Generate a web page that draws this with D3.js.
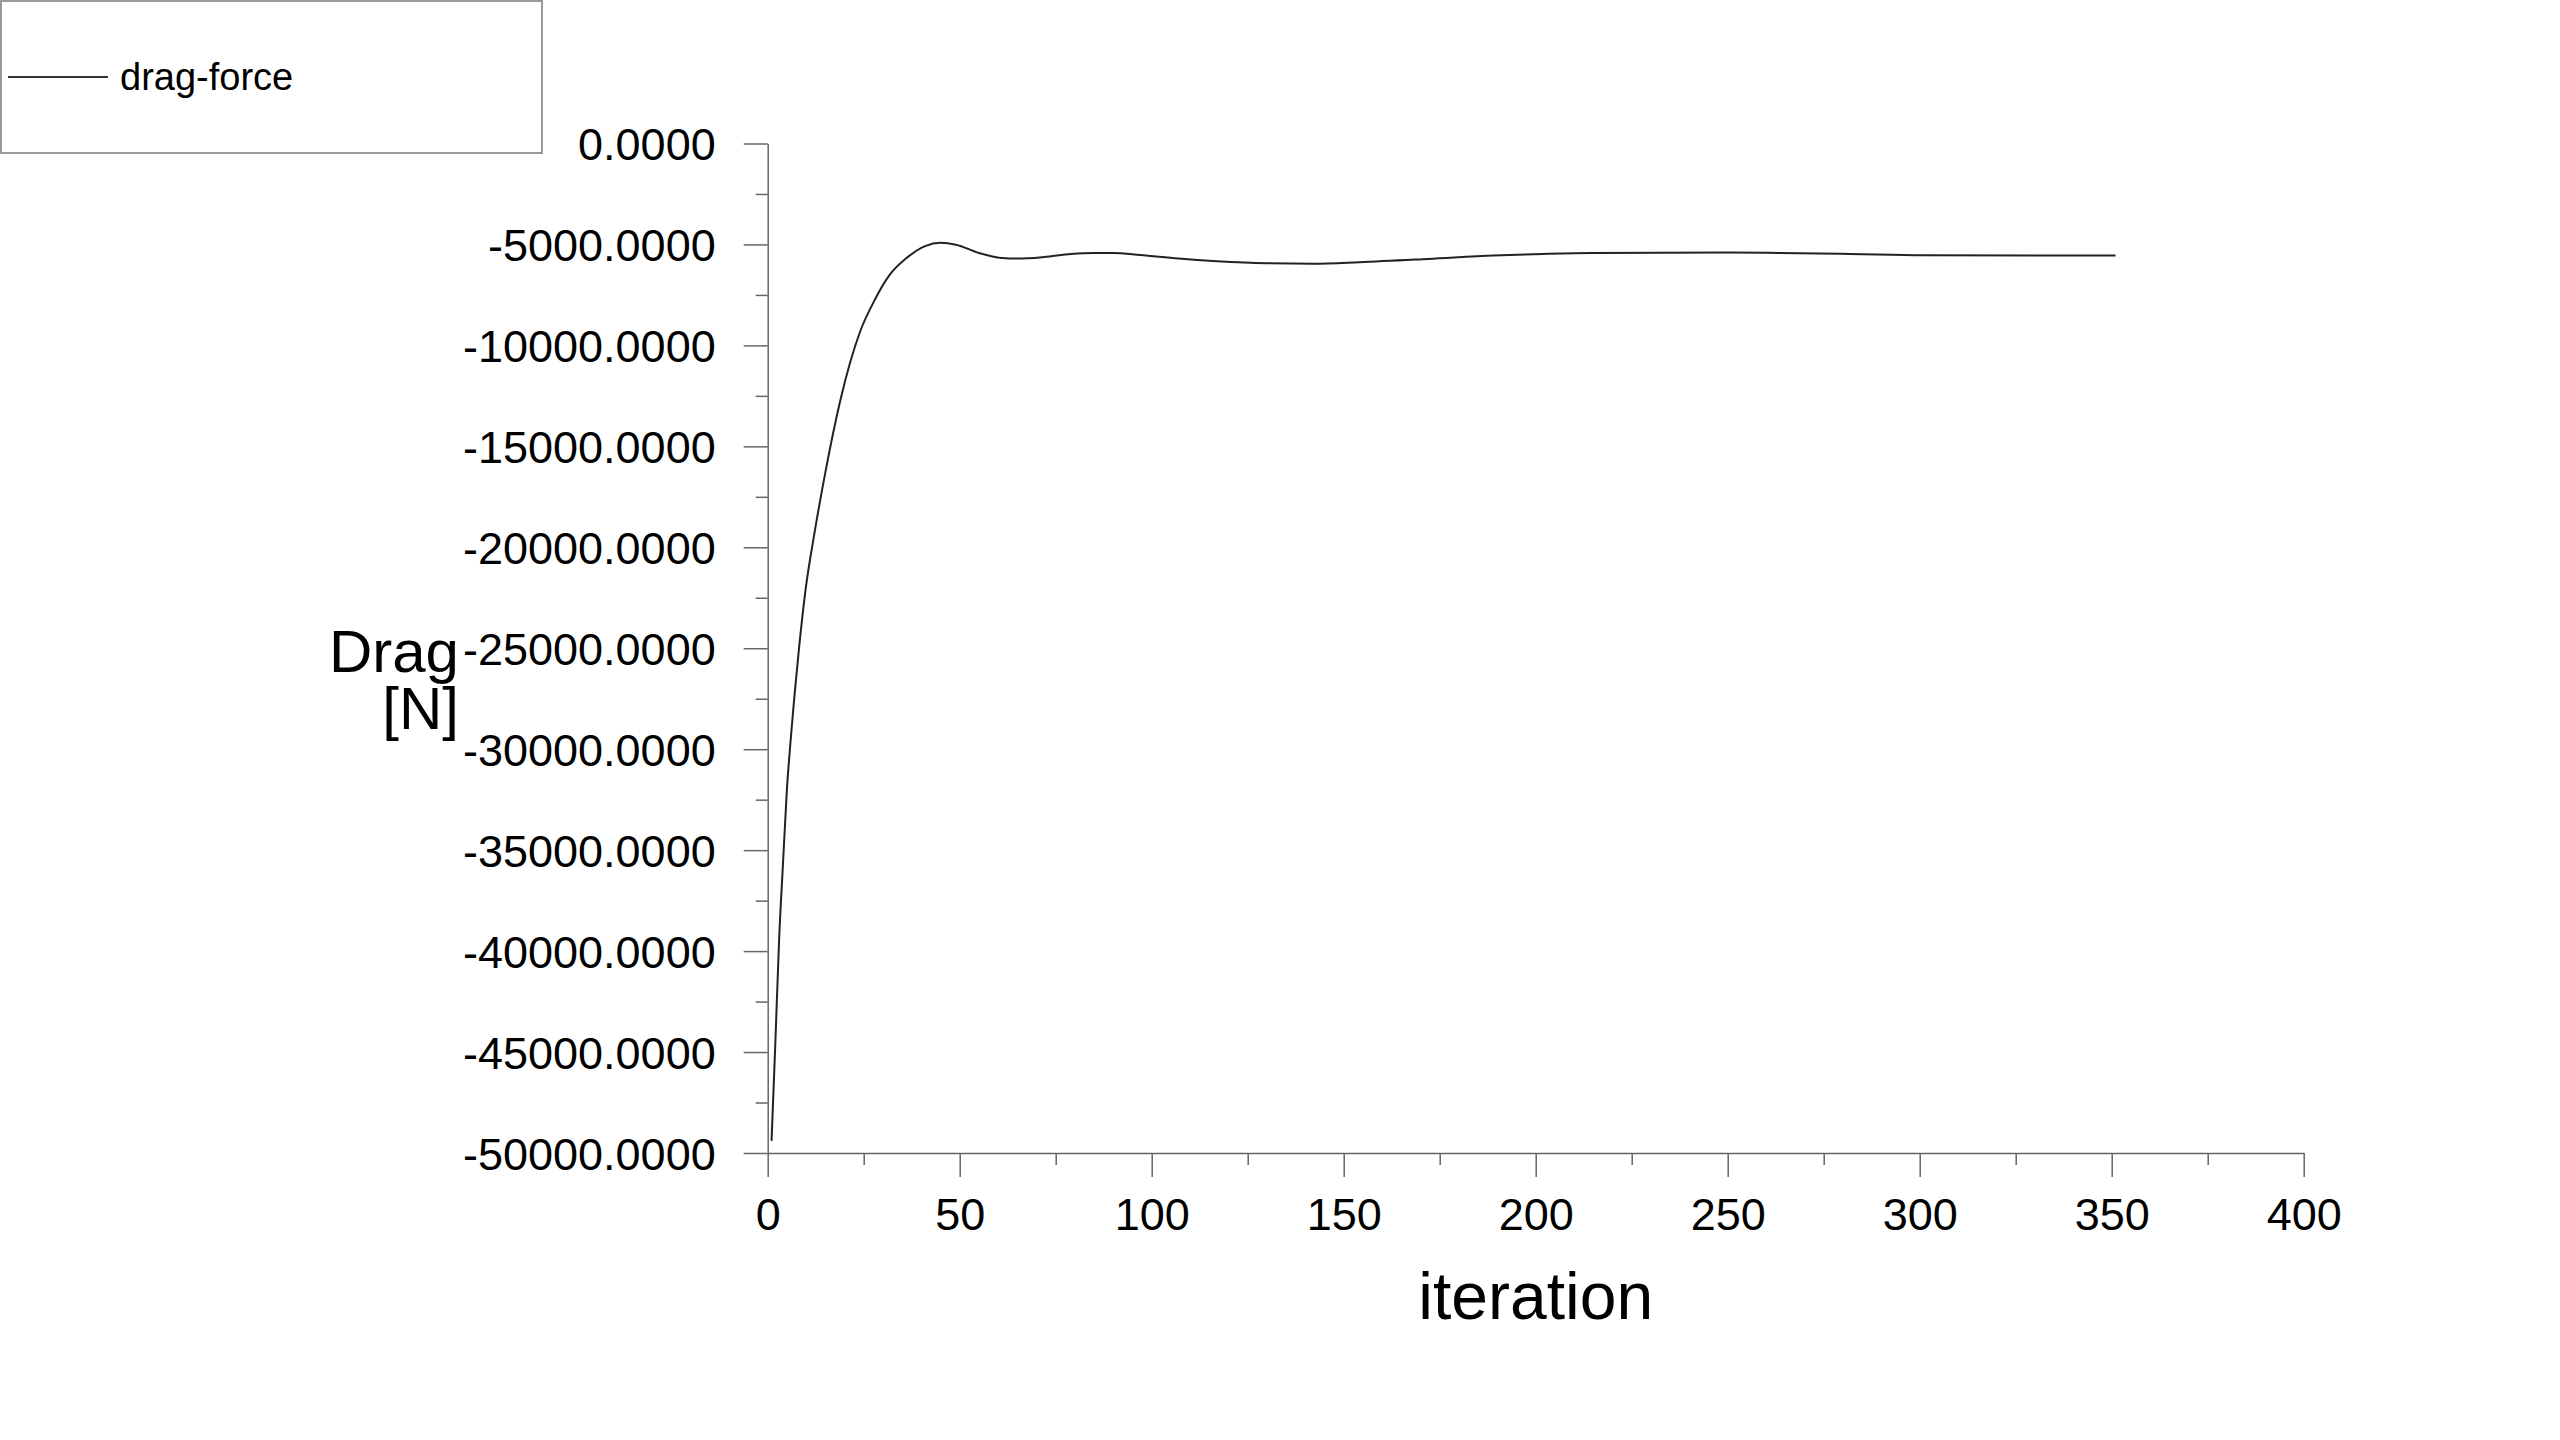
<!DOCTYPE html>
<html>
<head>
<meta charset="utf-8">
<script src="https://cdn.jsdelivr.net/npm/d3@7"></script>
<style>
  body { margin: 0; background: #fff; }
  svg { display: block; font-family: "Liberation Sans", Arial, sans-serif; }
</style>
</head>
<body>
<svg id="chart" width="2560" height="1440"></svg>
<script>
// drag-force history
var iteration = [1, 2, 3, 4, 5, 6, 8, 10, 12, 15, 19, 24, 28, 32, 36, 41, 45, 49, 55, 61,
                 65, 72, 79, 85, 90, 97, 107, 117, 130, 142, 154, 172, 189, 202, 215, 250, 263, 282, 301, 351]
var drag = [-49400, -44500, -39300, -35600, -32000, -29500, -25300, -21900, -19500, -16300,
            -12650, -9350, -7700, -6450, -5700, -5080, -4920, -5010, -5420, -5670,
            -5700, -5620, -5470, -5420, -5420, -5520, -5700, -5830, -5930, -5950,
            -5880, -5720, -5550, -5470, -5420, -5400, -5420, -5470, -5530, -5550]

var xMajor = d3.range(0, 401, 50)
var xMinor = d3.range(25, 400, 50)
var yMajor = d3.range(0, -50001, -5000)
var yMinor = d3.range(-2500, -50000, -5000)

var seriesName = 'drag-force'
var xTitle = 'iteration'
var yTitle = ['Drag', '[N]']

var svg = d3.select('#chart')
var axisColor = '#666'

var xs = d3.scaleLinear().domain([0, 400]).range([767.7, 2303.7])
var ys = d3.scaleLinear().domain([0, -50000]).range([143.5, 1153])

var fmt = function(d) { return d.toFixed(4) }

// minor ticks first, majors over them
svg.append('g').attr('transform', 'translate(' + xs.range()[0] + ',0)')
    .call(d3.axisLeft(ys).tickValues(yMinor).tickSize(12).tickFormat(''))
    .call(g => g.select('.domain').remove())

svg.append('g').attr('transform', 'translate(0,' + ys.range()[1] + ')')
    .call(d3.axisBottom(xs).tickValues(xMinor).tickSize(12).tickFormat(''))
    .call(g => g.select('.domain').remove())

var yAxis = svg.append('g').attr('transform', 'translate(' + xs.range()[0] + ',0)')
    .call(d3.axisLeft(ys).tickValues(yMajor).tickSize(24).tickSizeOuter(0).tickPadding(28).tickFormat(fmt))

var xAxis = svg.append('g').attr('transform', 'translate(0,' + ys.range()[1] + ')')
    .call(d3.axisBottom(xs).tickValues(xMajor).tickSize(24).tickSizeOuter(0).tickPadding(21).tickFormat(d3.format('d')))

svg.selectAll('.tick line, .domain').attr('stroke', axisColor).attr('stroke-width', 1.5)
svg.selectAll('.tick text').attr('fill', '#000').style('font-size', '45px')
    .style('font-family', '"Liberation Sans", Arial, sans-serif')
yAxis.selectAll('.tick text').attr('dy', '0.36em')

// the curve
var pts = iteration.map((it, i) => [it, drag[i]])
var line = d3.line().x(d => xs(d[0])).y(d => ys(d[1])).curve(d3.curveMonotoneX)

svg.append('path').attr('d', line(pts))
    .attr('fill', 'none').attr('stroke', '#222').attr('stroke-width', 2)

// axis titles
svg.append('text').attr('x', (xs.range()[0] + xs.range()[1]) / 2).attr('y', 1319)
    .attr('text-anchor', 'middle').style('font-size', '66px').text(xTitle)

svg.append('g').selectAll('text').data(yTitle).enter().append('text')
    .attr('x', 459).attr('y', (d, i) => 672 + i * 57)
    .attr('text-anchor', 'end').style('font-size', '60px').text(d => d)

// legend
var legend = svg.append('g')
legend.append('rect').attr('x', 1).attr('y', 1).attr('width', 541).attr('height', 152)
    .attr('fill', '#fff').attr('stroke', '#999').attr('stroke-width', 2)
legend.append('line').attr('x1', 8).attr('x2', 108).attr('y1', 77).attr('y2', 77)
    .attr('stroke', '#333').attr('stroke-width', 2)
legend.append('text').attr('x', 120).attr('y', 90).style('font-size', '38px').text(seriesName)
</script>
</body>
</html>
